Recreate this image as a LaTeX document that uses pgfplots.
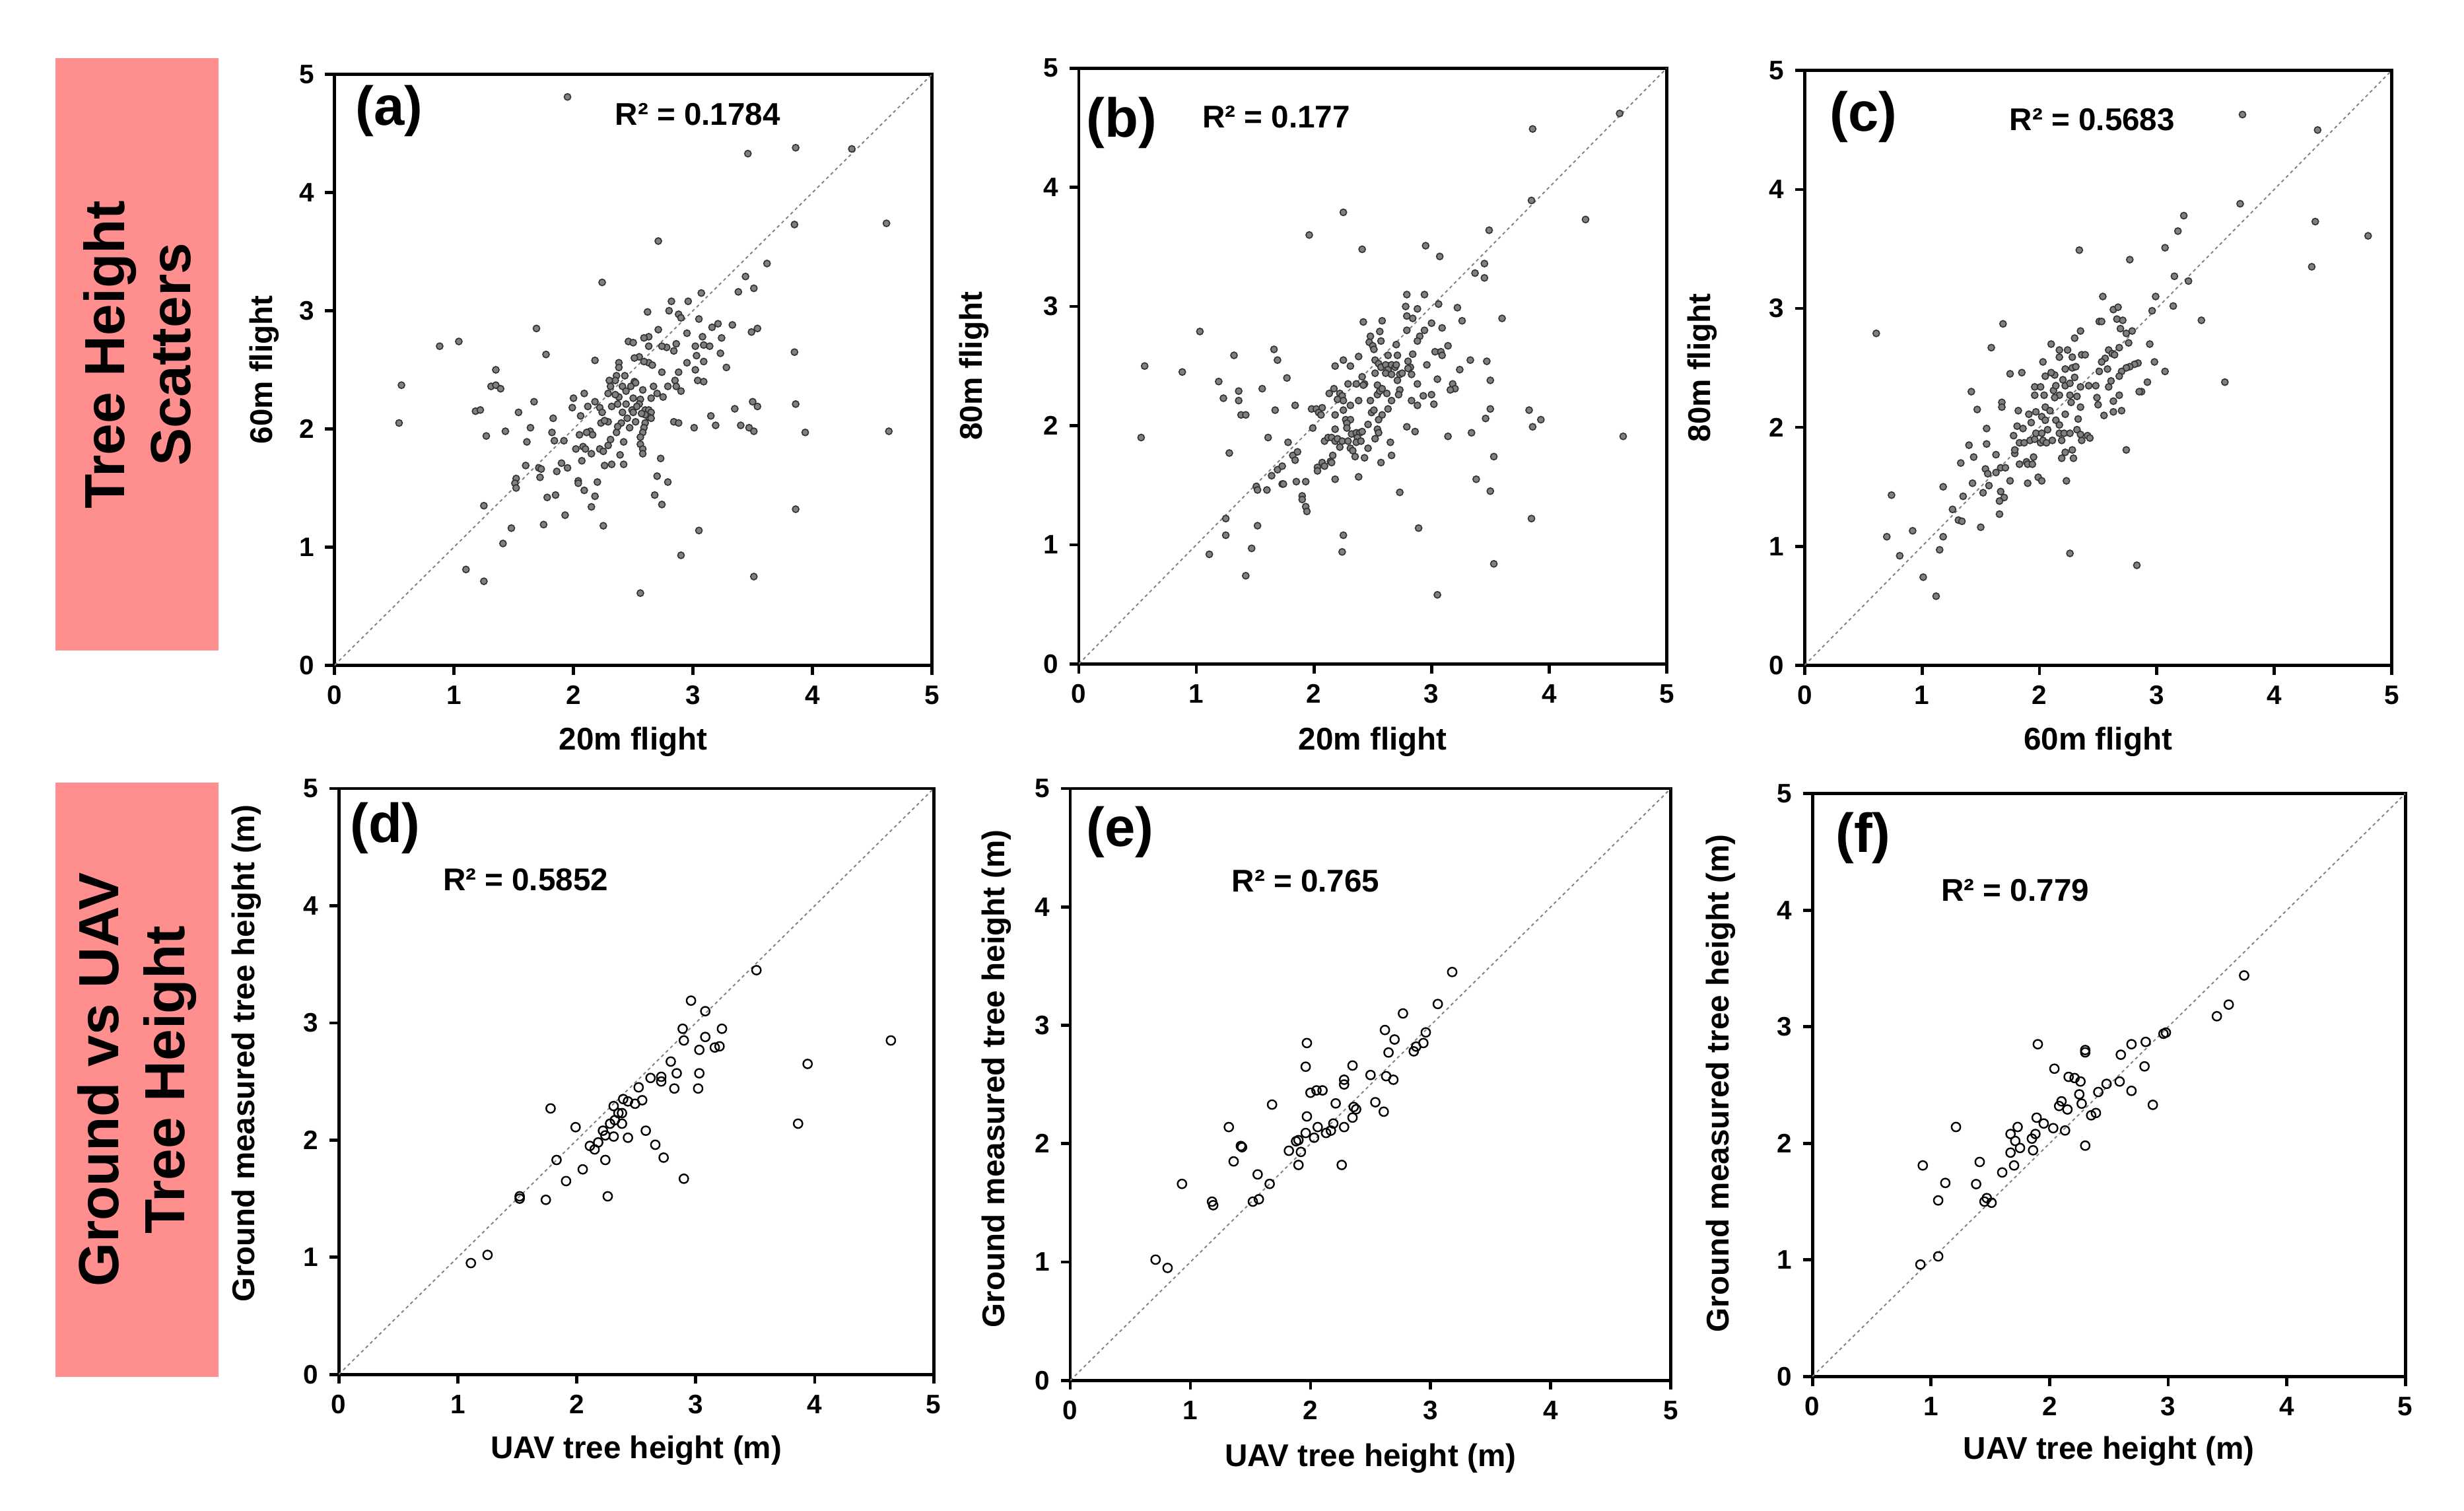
\documentclass[border=0pt]{standalone}
\usepackage{fontspec}
\setmainfont{Liberation Sans}
\usepackage{pgfplots}
\pgfplotsset{compat=1.18}

\definecolor{pinkbox}{RGB}{255,143,143}

\pgfplotsset{
  panel/.style={
    scale only axis,
    xmin=0, xmax=5, ymin=0, ymax=5,
    xtick={0,...,5}, ytick={0,...,5},
    tick pos=left, tick align=outside,
    major tick length=3pt,
    axis line style={line width=1pt},
    tick style={black, line width=1pt},
    /pgf/number format/assume math mode=true,
    tick label style={font=\bfseries\fontsize{8.5}{10}\selectfont},
    label style={font=\bfseries\fontsize{10}{12}\selectfont},
  },
  diag/.style={gray, line width=0.4pt, dash pattern=on 1pt off 1pt},
  dense/.style={only marks, mark=*, mark size=1.05pt,
    mark options={fill=black!50, draw=black!80, line width=0.35pt}},
  ground/.style={only marks, mark=o, mark size=1.4pt,
    mark options={draw=black, line width=0.5pt}},
}
\newcommand{\tag}[1]{{\bfseries\fontsize{17.5}{20}\selectfont #1}}
\newcommand{\rsq}[1]{{\bfseries\fontsize{10}{12}\selectfont R² = #1}}

\begin{document}
\begin{tikzpicture}
\useasboundingbox (0,0) rectangle (784pt,480.5pt);

% side boxes
\fill[pinkbox] (17.7pt,273.5pt) rectangle (69.5pt,462pt);
\fill[pinkbox] (17.7pt,42.5pt) rectangle (69.5pt,231.5pt);
\node[rotate=90, align=center, font=\bfseries\fontsize{18}{21}\selectfont]
  at (43.6pt,367.7pt) {Tree Height\\Scatters};
\node[rotate=90, align=center, font=\bfseries\fontsize{18}{21}\selectfont]
  at (43.6pt,137pt) {Ground vs UAV\\Tree Height};

% (a)
\begin{axis}[panel, at={(106.45pt,268.9pt)}, anchor=south west,
  width=190.05pt, height=187.9pt,
  xlabel={20m flight}, ylabel={60m flight},
  xlabel style={at={(axis description cs:0.5,-0.130)}, anchor=center},
  ylabel style={at={(axis description cs:-0.118,0.5)}, anchor=center}]
\addplot[diag] coordinates {(0,0)(5,5)};
\addplot[dense] coordinates {
(1.95,4.81)(3.46,4.33)(3.86,4.38)(4.33,4.37)(3.85,3.73)(4.62,3.74)(2.71,3.59)(3.62,3.40)
(2.24,3.24)(3.44,3.29)(3.51,3.19)(3.38,3.16)(3.07,3.15)(2.82,3.08)(2.96,3.08)(2.62,2.99)
(2.80,3.00)(2.88,2.97)(2.90,2.94)(3.05,2.93)(1.69,2.85)(0.88,2.70)(1.04,2.74)(1.77,2.63)
(2.18,2.58)(0.56,2.37)(0.54,2.05)(1.35,2.50)(1.31,2.36)(1.35,2.37)(1.39,2.34)(1.18,2.15)
(1.22,2.16)(1.27,1.94)(1.43,1.98)(1.54,2.14)(1.64,2.01)(1.67,2.23)(1.61,1.89)(1.83,2.09)
(1.82,1.97)(1.84,1.90)(1.92,1.90)(2.00,2.26)(1.99,2.18)(2.09,2.30)(2.06,2.11)(2.18,2.23)
(2.12,2.19)(2.22,2.18)(2.24,2.14)(2.23,2.05)(2.05,1.95)(2.14,1.98)(2.16,1.95)(2.11,1.97)
(2.02,1.83)(2.08,1.85)(2.10,1.83)(2.15,1.79)(2.22,1.83)(2.25,1.81)(2.31,1.91)(2.29,1.86)
(2.36,1.97)(2.42,1.89)(2.39,1.78)(2.32,1.70)(2.26,1.69)(2.42,1.70)(2.07,1.73)(2.20,1.55)
(2.04,1.56)(2.04,1.54)(2.09,1.48)(2.18,1.43)(2.15,1.34)(2.25,1.18)(1.93,1.27)(1.85,1.44)
(1.78,1.42)(1.75,1.19)(1.48,1.16)(1.41,1.03)(1.25,1.35)(1.10,0.81)(1.25,0.71)(1.52,1.58)
(1.51,1.54)(1.52,1.50)(1.60,1.69)(1.71,1.67)(1.73,1.66)(1.72,1.59)(1.86,1.64)(1.90,1.71)
(1.95,1.67)(2.56,0.61)(2.68,1.44)(2.74,1.36)(2.70,1.60)(2.79,1.55)(2.73,1.75)(2.90,0.93)
(3.05,1.14)(3.51,0.75)(3.86,1.32)(3.94,1.97)(4.64,1.98)(3.86,2.21)(3.85,2.65)(3.54,2.85)
(3.49,2.82)(3.33,2.88)(3.24,2.77)(3.23,2.64)(3.28,2.52)(3.21,2.89)(3.16,2.86)(3.08,2.78)
(3.09,2.71)(3.14,2.70)(3.02,2.70)(2.95,2.81)(3.03,2.62)(3.09,2.57)(2.95,2.56)(3.02,2.50)
(3.04,2.41)(3.09,2.40)(2.88,2.48)(2.85,2.41)(2.90,2.32)(2.86,2.36)(2.79,2.36)(2.78,2.69)
(2.74,2.70)(2.84,2.66)(2.86,2.72)(2.71,2.84)(2.74,2.48)(2.67,2.36)(2.70,2.30)(2.75,2.27)
(2.65,2.26)(2.63,2.78)(2.63,2.70)(2.59,2.77)(2.63,2.56)(2.66,2.54)(2.59,2.57)(2.55,2.61)
(2.51,2.60)(2.46,2.74)(2.50,2.73)(2.38,2.56)(2.38,2.52)(2.36,2.45)(2.35,2.41)(2.30,2.41)
(2.31,2.36)(2.41,2.36)(2.43,2.45)(2.51,2.40)(2.52,2.39)(2.58,2.33)(2.48,2.36)(2.44,2.32)
(2.50,2.26)(2.38,2.27)(2.35,2.29)(2.29,2.30)(2.37,2.21)(2.32,2.19)(2.44,2.21)(2.56,2.25)
(2.55,2.21)(2.53,2.19)(2.49,2.16)(2.50,2.14)(2.60,2.16)(2.63,2.16)(2.65,2.14)(2.63,2.10)
(2.65,2.09)(2.60,2.12)(2.57,2.13)(2.52,2.06)(2.60,2.05)(2.41,2.14)(2.45,2.09)(2.40,2.05)
(2.37,2.02)(2.29,2.06)(2.26,2.07)(2.47,2.01)(2.59,2.01)(2.58,1.97)(2.56,1.93)(2.56,1.87)
(2.58,1.83)(2.58,1.79)(2.84,2.06)(2.88,2.05)(3.01,2.01)(3.15,2.11)(3.19,2.03)(3.35,2.17)
(3.40,2.03)(3.47,2.01)(3.51,1.98)(3.50,2.23)(3.54,2.19)
};
\node[anchor=west, inner sep=0] at (axis cs:0.17,4.69) {\tag{(a)}};
\node at (axis cs:3.04,4.66) {\rsq{0.1784}};
\end{axis}

% (b)
\begin{axis}[panel, at={(343.25pt,269.3pt)}, anchor=south west,
  width=187.05pt, height=189.5pt,
  xlabel={20m flight}, ylabel={80m flight},
  xlabel style={at={(axis description cs:0.5,-0.131)}, anchor=center},
  ylabel style={at={(axis description cs:-0.178,0.5)}, anchor=center}]
\addplot[diag] coordinates {(0,0)(5,5)};
\addplot[dense] coordinates {
(4.60,4.62)(3.86,4.49)(3.85,3.89)(2.25,3.79)(4.31,3.73)(1.96,3.60)(3.49,3.64)(2.41,3.48)
(2.95,3.51)(3.07,3.42)(3.45,3.36)(3.37,3.28)(3.45,3.24)(2.79,3.10)(2.94,3.10)(2.78,3.00)
(2.88,2.98)(3.06,3.02)(3.22,2.99)(3.26,2.88)(3.60,2.90)(2.79,2.92)(2.84,2.90)(3.00,2.86)
(3.09,2.82)(2.94,2.80)(2.90,2.75)(2.88,2.71)(2.79,2.80)(2.70,2.68)(3.14,2.67)(3.03,2.62)
(3.08,2.62)(3.09,2.59)(2.84,2.60)(2.96,2.51)(2.82,2.49)(3.33,2.55)(3.47,2.54)(3.24,2.47)
(3.50,2.38)(3.18,2.35)(3.20,2.31)(3.16,2.30)(3.05,2.39)(2.88,2.35)(2.73,2.30)(2.72,2.26)
(3.00,2.26)(2.93,2.25)(2.83,2.21)(2.88,2.17)(3.02,2.18)(3.50,2.14)(3.46,2.06)(3.83,2.13)
(3.93,2.05)(3.86,1.99)(4.63,1.91)(3.14,1.91)(3.34,1.94)(2.79,1.99)(2.86,1.95)(3.53,1.74)
(3.38,1.55)(3.50,1.45)(2.73,1.44)(3.85,1.22)(2.89,1.14)(3.53,0.84)(3.05,0.58)(2.25,1.08)
(2.24,0.94)(2.18,1.55)(2.38,1.57)(1.51,1.49)(1.52,1.46)(1.60,1.46)(1.73,1.51)(1.74,1.51)
(1.85,1.53)(1.93,1.53)(1.90,1.41)(1.90,1.38)(1.93,1.32)(1.94,1.28)(1.25,1.22)(1.25,1.08)
(1.52,1.16)(1.47,0.97)(1.11,0.92)(1.42,0.74)(0.53,1.90)(0.56,2.50)(0.88,2.45)(1.03,2.79)
(1.19,2.37)(1.23,2.23)(1.32,2.59)(1.36,2.29)(1.36,2.21)(1.38,2.09)(1.42,2.09)(1.56,2.31)
(1.66,2.64)(1.69,2.55)(1.77,2.40)(1.67,2.13)(1.84,2.17)(1.61,1.90)(1.28,1.77)(1.78,1.86)
(1.82,1.75)(1.84,1.71)(1.86,1.78)(1.64,1.58)(1.69,1.63)(1.73,1.66)(1.99,1.98)(1.98,2.14)
(2.02,2.14)(2.07,2.15)(2.04,2.11)(2.06,2.09)(2.13,2.27)(2.17,2.31)(2.22,2.27)(2.24,2.25)
(2.20,2.22)(2.25,2.21)(2.18,2.09)(2.25,2.13)(2.31,2.17)(2.38,2.21)(2.27,2.05)(2.31,2.05)
(2.28,2.02)(2.28,1.98)(2.18,1.97)(2.09,1.87)(2.12,1.90)(2.15,1.90)(2.18,1.87)(2.20,1.89)
(2.24,1.87)(2.29,1.87)(2.32,1.93)(2.36,1.94)(2.39,1.94)(2.41,1.95)(2.37,1.90)(2.36,1.86)
(2.40,1.87)(2.31,1.81)(2.33,1.79)(2.22,1.82)(2.16,1.75)(2.14,1.70)(2.15,1.69)(2.07,1.69)
(2.03,1.65)(2.03,1.62)(2.09,1.66)(2.35,1.74)(2.43,1.73)(2.46,1.81)(2.52,1.89)(2.57,1.69)
(2.66,1.75)(2.65,1.86)(2.54,1.97)(2.55,1.94)(2.46,2.01)(2.49,2.11)(2.51,2.13)(2.58,2.09)
(2.55,2.05)(2.63,2.14)(2.66,2.21)(2.54,2.26)(2.56,2.29)(2.54,2.34)(2.58,2.31)(2.62,2.27)
(2.48,2.21)(2.43,2.35)(2.42,2.34)(2.36,2.35)(2.29,2.35)(2.31,2.50)(2.38,2.58)(2.41,2.41)
(2.18,2.50)(2.25,2.55)(2.48,2.75)(2.47,2.70)(2.50,2.67)(2.51,2.64)(2.56,2.79)(2.57,2.71)
(2.58,2.88)(2.42,2.87)(2.52,2.55)(2.55,2.52)(2.57,2.49)(2.61,2.51)(2.63,2.47)(2.63,2.59)
(2.66,2.51)(2.69,2.49)(2.70,2.51)(2.71,2.59)(2.73,2.43)(2.75,2.44)(2.61,2.44)(2.66,2.43)
(2.52,2.44)(2.71,2.38)(2.80,2.48)(2.83,2.43)(2.80,2.54)
};
\node[anchor=west, inner sep=0] at (axis cs:0.06,4.54) {\tag{(b)}};
\node at (axis cs:1.68,4.59) {\rsq{0.177}};
\end{axis}

% (c)
\begin{axis}[panel, at={(574.2pt,268.9pt)}, anchor=south west,
  width=186.75pt, height=189.15pt,
  xlabel={60m flight}, ylabel={80m flight},
  xlabel style={at={(axis description cs:0.5,-0.129)}, anchor=center},
  ylabel style={at={(axis description cs:-0.174,0.5)}, anchor=center}]
\addplot[diag] coordinates {(0,0)(5,5)};
\addplot[dense] coordinates {
(3.73,4.63)(4.37,4.50)(3.71,3.88)(4.35,3.73)(4.80,3.61)(4.32,3.35)(3.23,3.78)(3.18,3.65)
(3.07,3.51)(2.34,3.49)(2.77,3.41)(3.15,3.27)(3.27,3.23)(2.54,3.10)(2.99,3.10)(3.14,3.02)
(2.96,2.98)(3.38,2.90)(2.63,2.99)(2.67,3.01)(2.51,2.89)(2.53,2.89)(2.66,2.91)(2.71,2.90)
(2.69,2.83)(2.79,2.81)(2.74,2.79)(2.76,2.71)(1.69,2.87)(0.61,2.79)(1.59,2.67)(2.35,2.81)
(2.30,2.75)(2.10,2.70)(2.17,2.65)(2.24,2.65)(2.28,2.59)(2.36,2.61)(2.39,2.61)(2.17,2.59)
(2.68,2.67)(2.59,2.65)(2.62,2.62)(2.64,2.61)(2.56,2.58)(2.53,2.55)(2.94,2.70)(2.98,2.55)
(3.07,2.47)(2.84,2.54)(2.81,2.53)(2.77,2.51)(2.74,2.50)(2.70,2.47)(2.68,2.43)(2.58,2.49)
(2.51,2.47)(2.61,2.39)(2.92,2.38)(3.58,2.38)(2.87,2.30)(2.85,2.30)(2.68,2.27)(2.59,2.34)
(2.49,2.25)(2.50,2.19)(2.63,2.22)(2.70,2.14)(2.63,2.13)(2.55,2.10)(2.03,2.55)(1.85,2.46)
(1.75,2.45)(1.42,2.30)(1.47,2.15)(1.68,2.21)(1.68,2.17)(1.55,1.99)(1.55,1.86)(1.40,1.85)
(1.44,1.75)(1.33,1.70)(1.63,1.77)(1.18,1.50)(1.43,1.53)(1.54,1.65)(1.56,1.61)(1.57,1.51)
(1.52,1.45)(1.63,1.62)(1.67,1.66)(1.71,1.66)(1.67,1.46)(1.70,1.41)(1.66,1.38)(1.66,1.27)
(1.75,1.55)(1.35,1.42)(1.26,1.31)(1.31,1.22)(1.34,1.21)(1.50,1.16)(1.18,1.08)(1.15,0.97)
(0.92,1.13)(0.74,1.43)(0.70,1.08)(0.81,0.92)(1.01,0.74)(1.12,0.58)(2.26,0.94)(2.83,0.84)
(2.74,1.81)(2.23,1.55)(2.19,1.74)(2.22,1.79)(2.28,1.81)(2.29,1.74)(1.90,1.53)(1.99,1.58)
(2.02,1.55)(1.83,1.69)(1.89,1.71)(1.90,1.69)(1.94,1.69)(1.95,1.75)(1.79,1.78)(1.79,1.81)
(1.78,1.93)(1.81,2.01)(1.82,2.14)(1.86,1.99)(1.83,1.87)(1.87,1.87)(1.92,1.89)(1.96,1.90)
(2.01,1.87)(2.03,1.89)(2.06,1.87)(2.11,1.89)(2.19,1.89)(2.17,1.95)(2.21,1.95)(2.26,1.95)
(2.32,1.98)(2.35,1.94)(2.41,1.93)(2.43,1.91)(2.36,1.89)(1.97,1.95)(2.02,1.95)(2.07,1.98)
(1.93,2.04)(1.97,2.13)(1.91,2.11)(2.02,2.09)(2.05,2.17)(2.09,2.14)(2.05,2.06)(2.14,2.06)
(2.17,2.02)(2.22,2.11)(2.27,2.21)(2.33,2.07)(2.35,2.17)(2.32,2.26)(2.26,2.27)(2.17,2.27)
(2.13,2.25)(2.12,2.31)(2.14,2.35)(2.22,2.35)(2.26,2.37)(2.30,2.42)(2.35,2.34)(2.42,2.35)
(2.48,2.35)(2.20,2.40)(2.13,2.44)(2.10,2.46)(2.05,2.43)(1.96,2.34)(1.96,2.27)(2.01,2.34)
(2.04,2.27)(2.28,2.50)(2.31,2.51)(2.22,2.49)
};
\node[anchor=west, inner sep=0] at (axis cs:0.21,4.61) {\tag{(c)}};
\node at (axis cs:2.45,4.59) {\rsq{0.5683}};
\end{axis}

% (d)
\begin{axis}[panel, at={(107.8pt,43.3pt)}, anchor=south west,
  width=189.3pt, height=186.35pt,
  xlabel={UAV tree height (m)}, ylabel={Ground measured tree height (m)},
  xlabel style={at={(axis description cs:0.5,-0.130)}, anchor=center},
  ylabel style={at={(axis description cs:-0.155,0.548)}, anchor=center}]
\addplot[diag] coordinates {(0,0)(5,5)};
\addplot[ground] coordinates {
(3.51,3.45)(2.96,3.19)(3.08,3.10)(2.89,2.95)(3.22,2.95)(2.90,2.85)(3.08,2.88)(3.03,2.77)
(3.16,2.79)(3.20,2.80)(4.64,2.85)(3.94,2.65)(2.79,2.67)(2.84,2.57)(3.03,2.57)(2.62,2.53)
(2.71,2.54)(2.71,2.50)(2.82,2.44)(3.02,2.44)(2.52,2.45)(2.55,2.34)(2.49,2.31)(2.43,2.33)
(2.39,2.35)(2.31,2.29)(2.38,2.23)(2.35,2.23)(2.38,2.14)(2.32,2.17)(2.28,2.14)(2.22,2.08)
(2.24,2.04)(2.31,2.03)(2.43,2.02)(2.58,2.08)(2.66,1.96)(2.73,1.85)(2.18,1.98)(2.11,1.95)
(2.15,1.92)(2.24,1.83)(1.99,2.11)(1.78,2.27)(1.83,1.83)(2.05,1.75)(1.91,1.65)(1.74,1.49)
(1.52,1.52)(1.52,1.50)(2.26,1.52)(2.90,1.67)(3.86,2.14)(1.11,0.95)(1.25,1.02)
};
\node[anchor=west, inner sep=0] at (axis cs:0.09,4.66) {\tag{(d)}};
\node at (axis cs:1.57,4.22) {\rsq{0.5852}};
\end{axis}

% (e)
\begin{axis}[panel, at={(340.55pt,41.4pt)}, anchor=south west,
  width=191.05pt, height=188.25pt,
  xlabel={UAV tree height (m)}, ylabel={Ground measured tree height (m)},
  xlabel style={at={(axis description cs:0.5,-0.132)}, anchor=center},
  ylabel style={at={(axis description cs:-0.123,0.51)}, anchor=center}]
\addplot[diag] coordinates {(0,0)(5,5)};
\addplot[ground] coordinates {
(3.18,3.45)(3.06,3.18)(2.77,3.10)(2.62,2.96)(2.96,2.94)(2.70,2.88)(2.94,2.85)(2.88,2.82)
(2.86,2.78)(2.65,2.77)(1.97,2.85)(1.96,2.65)(2.35,2.66)(2.50,2.58)(2.63,2.57)(2.69,2.54)
(2.28,2.54)(2.28,2.50)(2.00,2.43)(2.05,2.45)(2.10,2.45)(1.68,2.33)(2.21,2.34)(2.36,2.31)
(2.38,2.29)(2.54,2.35)(2.61,2.27)(1.97,2.23)(2.35,2.22)(2.19,2.17)(2.28,2.14)(2.06,2.14)
(2.17,2.11)(2.13,2.09)(1.96,2.09)(2.03,2.05)(1.88,2.02)(1.90,2.03)(1.82,1.94)(1.92,1.93)
(1.90,1.82)(2.26,1.82)(1.32,2.14)(1.42,1.98)(1.43,1.97)(1.36,1.85)(1.66,1.66)(1.56,1.74)
(1.52,1.51)(1.57,1.53)(1.18,1.51)(1.19,1.48)(0.93,1.66)(0.71,1.02)(0.81,0.95)
};
\node[anchor=west, inner sep=0] at (axis cs:0.13,4.63) {\tag{(e)}};
\node at (axis cs:1.96,4.22) {\rsq{0.765}};
\end{axis}

% (f)
\begin{axis}[panel, at={(576.7pt,42.65pt)}, anchor=south west,
  width=188.65pt, height=185.4pt,
  xlabel={UAV tree height (m)}, ylabel={Ground measured tree height (m)},
  xlabel style={at={(axis description cs:0.5,-0.128)}, anchor=center},
  ylabel style={at={(axis description cs:-0.155,0.503)}, anchor=center}]
\addplot[diag] coordinates {(0,0)(5,5)};
\addplot[ground] coordinates {
(3.64,3.44)(3.51,3.19)(3.41,3.09)(2.98,2.95)(2.96,2.94)(2.81,2.87)(2.69,2.85)(2.60,2.76)
(2.80,2.66)(2.30,2.80)(2.30,2.78)(1.90,2.85)(2.04,2.64)(2.16,2.57)(2.21,2.56)(2.26,2.53)
(2.59,2.53)(2.48,2.51)(2.41,2.44)(2.25,2.42)(2.69,2.45)(2.10,2.36)(2.08,2.32)(2.15,2.29)
(2.27,2.34)(2.87,2.33)(2.39,2.26)(2.35,2.24)(1.89,2.22)(1.95,2.17)(1.73,2.14)(2.03,2.13)
(2.13,2.11)(1.88,2.08)(1.67,2.08)(1.85,2.04)(1.71,2.02)(1.75,1.96)(1.67,1.92)(1.86,1.94)
(2.30,1.98)(1.70,1.81)(1.60,1.75)(1.41,1.84)(1.21,2.14)(0.93,1.81)(1.12,1.66)(1.38,1.65)
(1.06,1.51)(1.45,1.50)(1.47,1.53)(1.51,1.49)(0.91,0.96)(1.06,1.03)
};
\node[anchor=west, inner sep=0] at (axis cs:0.19,4.62) {\tag{(f)}};
\node at (axis cs:1.71,4.17) {\rsq{0.779}};
\end{axis}
\end{tikzpicture}
\end{document}
